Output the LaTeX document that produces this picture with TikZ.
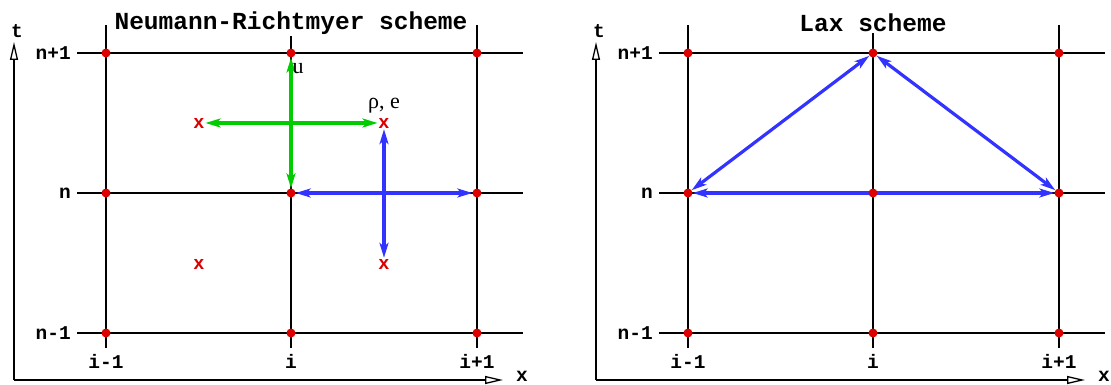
\documentclass[tikz,border=0pt]{standalone}
\usepackage{fontspec}
\setmainfont{Liberation Serif}
\setmonofont{Liberation Mono}
\newfontfamily\markfont{Liberation Sans}
\usetikzlibrary{arrows.meta,positioning,backgrounds}

\definecolor{dotred}{RGB}{220,0,0}
\definecolor{nrgreen}{RGB}{0,204,0}
\definecolor{laxblue}{RGB}{51,51,255}

\tikzset{
  grid line/.style={line width=1.3pt, black},
  axis/.style={line width=1.3pt, -{Triangle[open, length=18pt, width=8pt]}},
  dot/.style={circle, fill=dotred, inner sep=0pt, minimum size=9pt},
  lbl/.style={font=\ttfamily\bfseries\fontsize{19.5}{20}\selectfont, inner sep=1pt},
  ttl/.style={font=\ttfamily\bfseries\fontsize{24.5}{25}\selectfont, fill=white, inner sep=1.5pt},
  cross/.style={text=dotred, font=\markfont\bfseries\fontsize{19}{19}\selectfont, inner sep=1pt},
  sym/.style={font=\fontsize{22}{22}\selectfont, inner sep=1pt},
  flow/.style={line width=3.2pt, {Stealth[length=15pt, width=9pt, inset=4pt]}-{Stealth[length=15pt, width=9pt, inset=4pt]}},
  green arrow/.style={flow, draw=nrgreen},
  blue arrow/.style={flow, draw=laxblue}
}

\begin{document}
\begin{tikzpicture}[x=1pt, y=-1pt]
\useasboundingbox (0,0) rectangle (1111,385);

% both panels: grid, axes, dots, labels
\foreach \sx/\pn in {0/NR, 582/Lax} {
  \begin{scope}[xshift=\sx pt]
    \begin{pgfonlayer}{background}
      \foreach \gx in {106,291,477}
        \draw[grid line] (\gx,25) -- (\gx,348);
      \foreach \gy in {53,193,333}
        \draw[grid line] (77,\gy) -- (523,\gy);
    \end{pgfonlayer}
    \coordinate (\pn-origin) at (14,380);
    \coordinate (\pn-tend) at (14,42);
    \coordinate (\pn-xend) at (503,380);
    \draw[axis] (\pn-origin) -- (\pn-tend);
    \draw[axis] (\pn-origin) -- (\pn-xend);
    \node[lbl] (\pn-t) at (17,31) {t};
    \node[lbl] (\pn-x) at (522,376) {x};
    \foreach \i/\gx in {0/106,1/291,2/477}
      \foreach \j/\gy in {0/333,1/193,2/53}
        \node[dot] (\pn-\i-\j) at (\gx,\gy) {};
    \foreach \j/\gy/\txt in {0/333/n-1, 1/193/n, 2/53/n+1}
      \node[lbl, anchor=east] (\pn-row-\j) at (72,\gy) {\txt};
    \foreach \i/\gx/\txt in {0/106/i-1, 1/291/i, 2/477/i+1}
      \node[lbl] (\pn-col-\i) at (\gx,361) {\txt};
  \end{scope}
}

% titles
\node[ttl] (NR-title) at (291,23) {Neumann-Richtmyer scheme};
\node[ttl] (Lax-title) at (873,23) {Lax scheme};

% half-step points
\node[cross] (xa) at (199,123) {x};
\node[cross] (xb) at (384,123) {x};
\node[cross] (xc) at (199,264) {x};
\node[cross] (xd) at (384,264) {x};
\node[sym] (u-lbl) at (298,69) {u};
\node[sym, above=2pt of xb] (rho-lbl) {ρ, e};

% stencils
\begin{pgfonlayer}{background}
  \draw[green arrow] (NR-1-1) -- (NR-1-2);
  \draw[green arrow] (xa) -- (xb);
  \draw[blue arrow] (NR-1-1) -- (NR-2-1);
  \draw[blue arrow] (xb) -- (xd);
  \draw[blue arrow] (Lax-0-1) -- (Lax-1-2);
  \draw[blue arrow] (Lax-1-2) -- (Lax-2-1);
  \draw[blue arrow] (Lax-0-1) -- (Lax-2-1);
\end{pgfonlayer}
\end{tikzpicture}
\end{document}
